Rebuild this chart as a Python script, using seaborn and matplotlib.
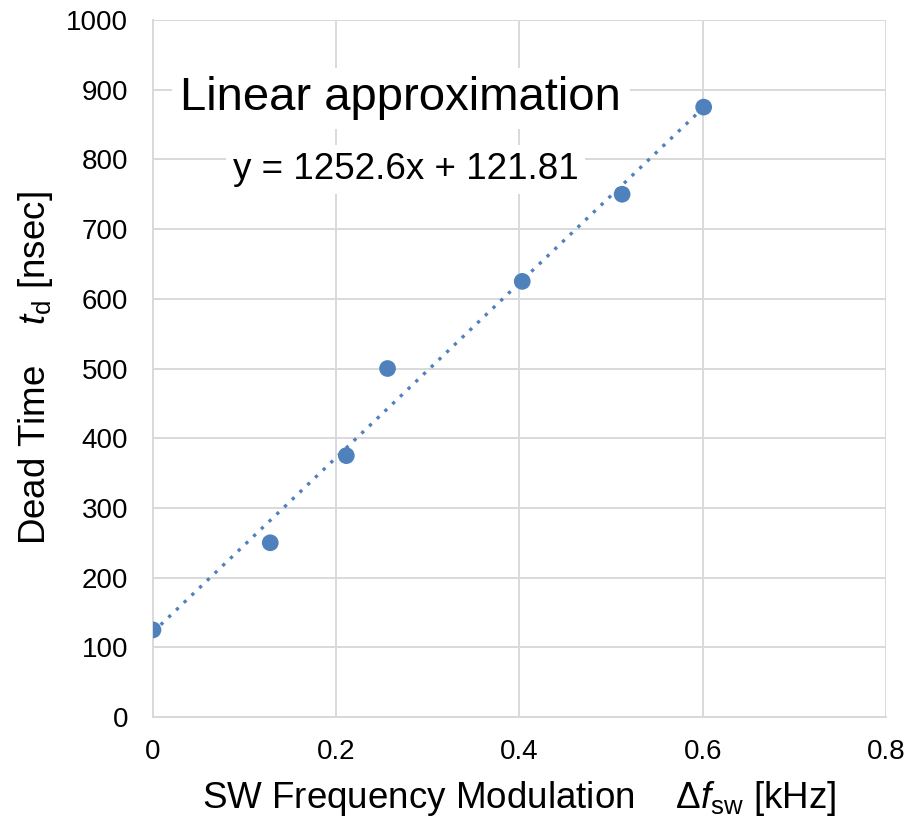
import matplotlib
matplotlib.use("Agg")
import matplotlib.pyplot as plt
import seaborn as sns
import numpy as np
import pandas as pd

# Data
freq_mod = [0.0, 0.128, 0.211, 0.256, 0.403, 0.512, 0.601]
dead_time = [125, 250, 375, 500, 625, 750, 875]
slope = 1252.6
intercept = 121.81
x_ticks = [0, 0.2, 0.4, 0.6, 0.8]
x_tick_labels = ["0", "0.2", "0.4", "0.6", "0.8"]
y_ticks = [0, 100, 200, 300, 400, 500, 600, 700, 800, 900, 1000]

sns.set_theme(style="whitegrid")
plt.rcParams['font.family'] = ['Liberation Sans', 'DejaVu Sans']
plt.rcParams['mathtext.fontset'] = 'custom'
plt.rcParams['mathtext.rm'] = 'Liberation Sans'
plt.rcParams['mathtext.it'] = 'Liberation Sans:italic'

df = pd.DataFrame({"x": freq_mod, "y": dead_time})

fig = plt.figure(figsize=(9.21, 8.19), dpi=100)
ax = fig.add_axes([0.1661, 0.1245, 0.962 - 0.1661, 0.9756 - 0.1245])
ax.set_facecolor("white")

color = "#4f81bd"
# trendline
tx = np.array([min(freq_mod), max(freq_mod)])
ax.plot(tx, slope * tx + intercept, linestyle=(0, (1, 2.2)), color=color, lw=2.4, zorder=2)
sns.scatterplot(data=df, x="x", y="y", ax=ax, color=color, s=145, edgecolor="none", zorder=3)

ax.set_xlim(0, 0.8)
ax.set_ylim(0, 1000)
ax.set_xticks(x_ticks)
ax.set_xticklabels(x_tick_labels)
ax.set_yticks(y_ticks)
ax.grid(True, color="#d9d9d9", lw=1.4)
for s in ["top", "right"]:
    ax.spines[s].set_visible(False)
for s in ["left", "bottom"]:
    ax.spines[s].set_color("#d9d9d9")
    ax.spines[s].set_linewidth(1.4)
ax.tick_params(axis="both", length=0, labelsize=20, colors="black")
ax.tick_params(axis="y", pad=18)
ax.tick_params(axis="x", pad=16)

ax.set_xlabel("SW Frequency Modulation    $\\Delta f_{\\mathrm{sw}}$ [kHz]", fontsize=26.5, color="black", labelpad=10)
ax.set_ylabel("Dead Time    $t_{\\mathrm{d}}$ [nsec]", fontsize=26.5, color="black", labelpad=8)

ax.text(0.030, 888, "Linear approximation", fontsize=34, color="black", va="center", ha="left",
        bbox=dict(facecolor="white", edgecolor="none", pad=6), zorder=4)
ax.text(0.087, 785, "y = 1252.6x + 121.81", fontsize=26.5, color="black", va="center", ha="left",
        bbox=dict(facecolor="white", edgecolor="none", pad=5), zorder=4)

fig.savefig("out.png", dpi=100)
